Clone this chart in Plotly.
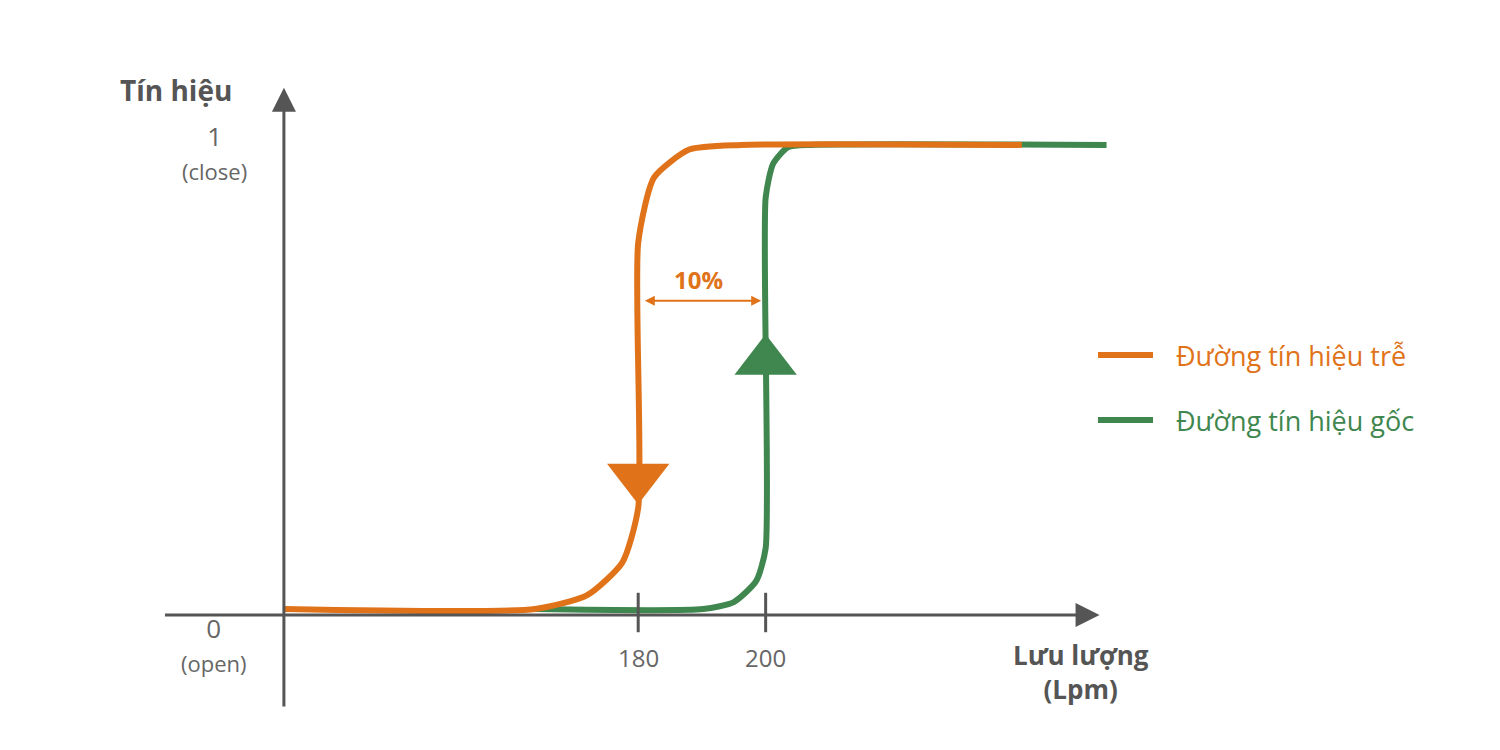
import plotly.graph_objects as go

ORANGE = "#E07319"
GREEN = "#3F874F"
AXIS = "#555555"
TXT = "#666666"

# Curves (x in Lpm, schematic; y: 0=open, 1=close)
orange_x = [124.4, 163.8, 172.0, 177.5, 180.0, 180.0, 182.5, 188.0, 196.1, 240.2]
orange_y = [0.0, 0.0, 0.03, 0.10, 0.218, 0.789, 0.93, 0.99, 1.0, 1.0]
green_x = [163.8, 190.2, 195.0, 198.5, 200.0, 200.0, 201.2, 203.5, 207.1, 253.5]
green_y = [0.0, 0.0, 0.015, 0.06, 0.131, 0.886, 0.96, 0.995, 1.0, 1.0]

tick_vals = [180, 200]
tick_text = ["180", "200"]
y_labels = ["1<br><span style='font-size:22px'>(close)</span>",
            "0<br><span style='font-size:22px'>(open)</span>"]
legend_names = ["Đường tín hiệu trễ", "Đường tín hiệu gốc"]
hysteresis_text = "10%"

X0, Y_AX = 124.4, -0.013

fig = go.Figure()
fig.add_trace(go.Scatter(x=green_x, y=green_y, mode="lines",
                         line=dict(color=GREEN, width=6, shape="spline", smoothing=0.6),
                         hoverinfo="skip"))
fig.add_trace(go.Scatter(x=orange_x, y=orange_y, mode="lines",
                         line=dict(color=ORANGE, width=6, shape="spline", smoothing=0.6),
                         hoverinfo="skip"))
# direction arrows
fig.add_trace(go.Scatter(x=[180], y=[0.284], mode="markers",
                         marker=dict(symbol="triangle-down", size=54, color=ORANGE), hoverinfo="skip"))
fig.add_trace(go.Scatter(x=[200], y=[0.534], mode="markers",
                         marker=dict(symbol="triangle-up", size=54, color=GREEN), hoverinfo="skip"))

ann = []
# axes with arrows
ann.append(dict(x=252.4, y=Y_AX, ax=105.5, ay=Y_AX, xref="x", yref="y", axref="x", ayref="y",
                showarrow=True, arrowhead=2, arrowsize=1.6, arrowwidth=3, arrowcolor=AXIS, text=""))
ann.append(dict(x=X0, y=1.123, ax=X0, ay=-0.213, xref="x", yref="y", axref="x", ayref="y",
                showarrow=True, arrowhead=2, arrowsize=1.6, arrowwidth=3, arrowcolor=AXIS, text=""))
# 10% double arrow
ann.append(dict(x=199.3, y=0.664, ax=180.8, ay=0.664, xref="x", yref="y", axref="x", ayref="y",
                showarrow=True, arrowhead=2, startarrowhead=2, arrowside="end+start",
                arrowsize=1, arrowwidth=2, arrowcolor=ORANGE, text=""))
ann.append(dict(x=189.5, y=0.71, xref="x", yref="y", text="<b>%s</b>" % hysteresis_text,
                showarrow=False, font=dict(size=24, color=ORANGE)))

shapes = []
for v, t in zip(tick_vals, tick_text):
    shapes.append(dict(type="line", x0=v, x1=v, y0=0.035, y1=-0.05, xref="x", yref="y",
                       line=dict(color=AXIS, width=3)))
    ann.append(dict(x=v, y=-0.105, xref="x", yref="y", text=t, showarrow=False,
                    font=dict(size=24, color=TXT)))

ann.append(dict(x=113.5, y=0.985, xref="x", yref="y", text=y_labels[0], showarrow=False,
                font=dict(size=26, color=TXT)))
ann.append(dict(x=113.5, y=-0.075, xref="x", yref="y", text=y_labels[1], showarrow=False,
                font=dict(size=26, color=TXT)))
ann.append(dict(x=107.5, y=1.118, xref="x", yref="y", text="<b>Tín hiệu</b>", showarrow=False,
                font=dict(size=28, color=AXIS)))
ann.append(dict(x=249.5, y=-0.135, xref="x", yref="y", text="<b>Lưu lượng<br>(Lpm)</b>",
                showarrow=False, font=dict(size=26, color=AXIS)))

# legend
for i, (name, col) in enumerate(zip(legend_names, [ORANGE, GREEN])):
    yp = 1 - (347 + 65 * i) / 750
    shapes.append(dict(type="line", x0=1090 / 1500, x1=1145 / 1500, y0=yp, y1=yp,
                       xref="paper", yref="paper", line=dict(color=col, width=6)))
    ann.append(dict(x=1166 / 1500, y=yp, xref="paper", yref="paper", text=name, showarrow=False,
                    xanchor="left", font=dict(size=27, color=col)))

fig.update_layout(
    width=1500, height=750, margin=dict(l=0, r=0, t=0, b=0),
    paper_bgcolor="white", plot_bgcolor="white", showlegend=False,
    font=dict(family="Open Sans"),
    xaxis=dict(range=[81.1, 316.5], visible=False, fixedrange=True),
    yaxis=dict(range=[-0.321, 1.295], visible=False, fixedrange=True),
    annotations=ann, shapes=shapes,
)
fig.write_html("out.html")
